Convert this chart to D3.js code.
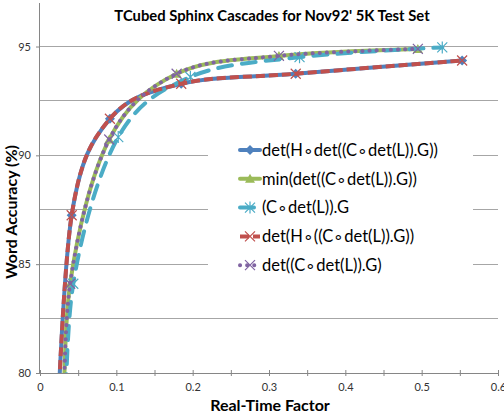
<!DOCTYPE html>
<html><head><meta charset="utf-8">
<script src="https://cdn.jsdelivr.net/npm/d3@7"></script>
<style>body{margin:0;background:#fff}svg{display:block}</style>
</head><body><svg id="c" width="504" height="414"></svg>
<script>
const title = "TCubed Sphinx Cascades for Nov92' 5K Test Set";
const xTitle = "Real-Time Factor";
const yTitle = "Word Accuracy (%)";
const xTicks = [0, 0.1, 0.2, 0.3, 0.4, 0.5, 0.6];
const yTicks = [80, 85, 90, 95];
const seriesNames = ["det(H\u2218det((C\u2218det(L)).G))", "min(det((C\u2218det(L)).G))", "(C\u2218det(L)).G", "det(H\u2218((C\u2218det(L)).G))", "det((C\u2218det(L)).G)"];
const rtfA = [0.021, 0.0415, 0.0916, 0.185, 0.335, 0.553];
const accA = [76, 87.25, 91.68, 93.29, 93.75, 94.36];
const rtfB = [0.031, 0.0395, 0.0907, 0.179, 0.313, 0.495];
const accB = [76, 84.1, 90.73, 93.75, 94.57, 94.89];
const rtfC = [0.033, 0.0436, 0.1025, 0.197, 0.340, 0.527];
const accC = [76, 84.1, 90.84, 93.6, 94.51, 94.96];
const rtfD = rtfA, accD = accA;
const rtfE = rtfB, accE = accB;

const colors = ["#4F81BD", "#9BBB59", "#4BACC6", "#C0504D", "#8064A2"];
const styles = [
  {dash: null, cap: "round"},
  {dash: null, cap: "round"},
  {dash: "14,10", cap: "round"},
  {dash: "9,4", cap: "butt"},
  {dash: "0.1,7", cap: "round"}
];
const markers = ["diamond", "triangle", "asterisk", "x", "x"];
const series = [[rtfA, accA], [rtfB, accB], [rtfC, accC], [rtfD, accD], [rtfE, accE]]
  .map(([xs, ys], i) => ({name: seriesNames[i], pts: xs.map((x, j) => [x, ys[j]]), i}));

const svg = d3.select("#c");
const L = 40, R = 498, T = 3, B = 373;
const x = d3.scaleLinear().domain([0, 0.6]).range([L, R]);
const y = d3.scaleLinear().domain([80, 97]).range([B, T]);
const font = "Lato, 'Open Sans', sans-serif";

// gridlines
svg.append("g").selectAll("line").data([82.5, 85, 87.5, 90, 92.5, 95]).join("line")
  .attr("x1", L).attr("x2", R).attr("y1", d => y(d)).attr("y2", d => y(d))
  .attr("stroke", "#a6a6a6").attr("stroke-width", 1).attr("shape-rendering", "crispEdges");

// axes
const xAxis = d3.axisBottom(x).tickValues(d3.range(0, 0.6001, 0.05)).tickSize(4)
  .tickFormat(d => { const r = Math.round(d * 100); return r % 10 === 0 ? String(+(d.toFixed(1))) : ""; });
const gx = svg.append("g").attr("transform", `translate(0,${B})`).call(xAxis);
gx.select(".domain").attr("stroke", "#868686").attr("d", `M${L},0.5H${R}`);
gx.selectAll(".tick line").attr("stroke", "#868686").attr("y1", -3).attr("y2", 3);
gx.selectAll(".tick text").attr("font-family", font).attr("font-size", 11).attr("fill", "#333").attr("y", 14).attr("dy", "0.35em");

const yAxis = d3.axisLeft(y).tickValues(yTicks).tickSize(4).tickFormat(d3.format("d"));
const gy = svg.append("g").attr("transform", `translate(${L},0)`).call(yAxis);
gy.select(".domain").attr("stroke", "#868686").attr("d", `M-0.5,${T}V${B}`);
gy.selectAll(".tick line").attr("stroke", "#868686");
gy.selectAll(".tick text").attr("font-family", font).attr("font-size", 11).attr("fill", "#333").attr("x", -9);

// clip
svg.append("clipPath").attr("id", "clip").append("rect").attr("x", L).attr("y", T).attr("width", R - L).attr("height", B - T);

const line = d3.line().x(d => x(d[0])).y(d => y(d[1])).curve(d3.curveCardinal.tension(0));

function marker(g, type, color, cx, cy) {
  const s = 5;
  if (type === "diamond") {
    g.append("path").attr("d", `M${cx},${cy - s}L${cx + s},${cy}L${cx},${cy + s}L${cx - s},${cy}Z`).attr("fill", color);
  } else if (type === "triangle") {
    g.append("path").attr("d", `M${cx},${cy - s}L${cx + s},${cy + s - 1}L${cx - s},${cy + s - 1}Z`).attr("fill", color);
  } else if (type === "asterisk") {
    g.append("path").attr("d", `M${cx - s},${cy - s}L${cx + s},${cy + s}M${cx - s},${cy + s}L${cx + s},${cy - s}M${cx},${cy - s - 1}V${cy + s + 1}`)
      .attr("stroke", color).attr("stroke-width", 1.2).attr("fill", "none");
  } else {
    g.append("path").attr("d", `M${cx - s},${cy - s}L${cx + s},${cy + s}M${cx - s},${cy + s}L${cx + s},${cy - s}`)
      .attr("stroke", color).attr("stroke-width", 1.2).attr("fill", "none");
  }
}

const plot = svg.append("g").attr("clip-path", "url(#clip)");
series.forEach(s => {
  const g = plot.append("g");
  g.append("path").attr("d", line(s.pts)).attr("fill", "none")
    .attr("stroke", colors[s.i]).attr("stroke-width", 4)
    .attr("stroke-dasharray", styles[s.i].dash).attr("stroke-linecap", styles[s.i].cap);
  s.pts.forEach(p => marker(g, markers[s.i], colors[s.i], x(p[0]), y(p[1])));
});

// legend
const lg = svg.append("g");
lg.append("rect").attr("x", 208).attr("y", 132).attr("width", 265).attr("height", 150).attr("fill", "#fff");
series.forEach((s, k) => {
  const cy = 150 + k * 28.8;
  lg.append("line").attr("x1", 240).attr("x2", 260).attr("y1", cy).attr("y2", cy)
    .attr("stroke", colors[s.i]).attr("stroke-width", 4)
    .attr("stroke-dasharray", styles[s.i].dash).attr("stroke-linecap", styles[s.i].cap);
  marker(lg, markers[s.i], colors[s.i], 250, cy);
  lg.append("text").attr("x", 262).attr("y", cy).attr("dy", "0.35em")
    .attr("font-family", font).attr("font-size", 16.5).attr("fill", "#000").text(s.name);
});

// titles
svg.append("text").attr("x", 272).attr("y", 21).attr("text-anchor", "middle")
  .attr("font-family", font).attr("font-weight", "bold").attr("font-size", 14.8).text(title);
svg.append("text").attr("x", 270).attr("y", 411).attr("text-anchor", "middle")
  .attr("font-family", font).attr("font-weight", "bold").attr("font-size", 16).text(xTitle);
svg.append("text").attr("transform", "translate(17,212) rotate(-90)").attr("text-anchor", "middle")
  .attr("font-family", font).attr("font-weight", "bold").attr("font-size", 16).text(yTitle);
</script></body></html>
